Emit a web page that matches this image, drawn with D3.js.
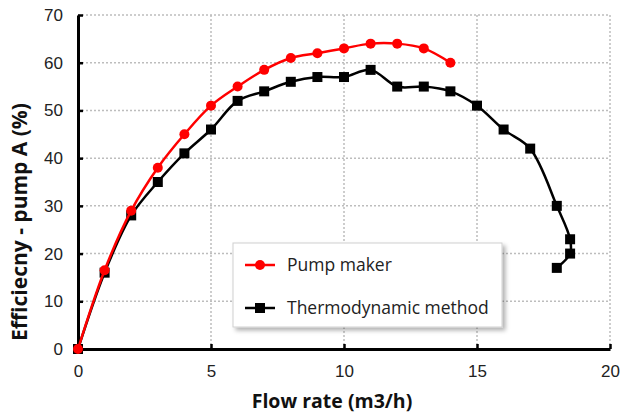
<!DOCTYPE html>
<html>
<head>
<meta charset="utf-8">
<script src="https://cdn.jsdelivr.net/npm/d3@7"></script>
<style>
  body { margin: 0; background: #fff; }
  svg { display: block; font-family: "Open Sans", "Liberation Sans", sans-serif; }
  .grid line { stroke: #bdbdbd; stroke-width: 1.5; stroke-dasharray: 2 2; }
  .tick text { font-size: 17px; fill: #222; }
</style>
</head>
<body>
<div id="chart"></div>
<script>
// valori
const makerFlow = [0, 1, 2, 3, 4, 5, 6, 7, 8, 9, 10, 11, 12, 13, 14];
const makerEff = [0, 16.5, 29, 38, 45, 51, 55, 58.5, 61, 62, 63, 64, 64, 63, 60];
const thermoFlow = [0, 1, 2, 3, 4, 5, 6, 7, 8, 9, 10, 11, 12, 13, 14, 15, 16, 17, 18, 18.5, 18.5, 18];
const thermoEff = [0, 16, 28, 35, 41, 46, 52, 54, 56, 57, 57, 58.5, 55, 55, 54, 51, 46, 42, 30, 23, 20, 17];
const xTicks = [0, 5, 10, 15, 20];
const yTicks = [0, 10, 20, 30, 40, 50, 60, 70];
const legendLabels = ["Pump maker", "Thermodynamic method"];

const W = 622, H = 417;
const margin = { left: 78, right: 12, top: 15, bottom: 68 };

const svg = d3.select("#chart").append("svg")
  .attr("width", W).attr("height", H);

const x = d3.scaleLinear().domain([0, 20]).range([margin.left, W - margin.right]);
const y = d3.scaleLinear().domain([0, 70]).range([H - margin.bottom, margin.top]);

// griglia tratteggiata
const grid = svg.append("g").attr("class", "grid");
grid.selectAll("line.h").data(yTicks.filter(d => d > 0)).enter().append("line")
  .attr("x1", x(0)).attr("x2", x(20))
  .attr("y1", d => y(d)).attr("y2", d => y(d));
grid.selectAll("line.v").data(xTicks.filter(d => d > 0)).enter().append("line")
  .attr("y1", y(0)).attr("y2", y(70))
  .attr("x1", d => x(d)).attr("x2", d => x(d));

// assi
const xAxis = svg.append("g")
  .attr("transform", `translate(0,${y(0)})`)
  .call(d3.axisBottom(x).tickValues(xTicks).tickSizeInner(-5).tickSizeOuter(0).tickPadding(16));
const yAxis = svg.append("g")
  .attr("transform", `translate(${x(0)},0)`)
  .call(d3.axisLeft(y).tickValues(yTicks).tickSizeInner(-5).tickSizeOuter(0).tickPadding(15));
[xAxis, yAxis].forEach(a => {
  a.select(".domain").attr("stroke", "#000").attr("stroke-width", 3);
  a.selectAll(".tick line").attr("stroke", "#000").attr("stroke-width", 2.5);
});

// titoli assi
svg.append("text")
  .attr("x", 332).attr("y", 408)
  .attr("text-anchor", "middle")
  .style("font-size", "19.5px").style("font-weight", "bold").attr("fill", "#111")
  .text("Flow rate (m3/h)");
svg.append("text")
  .attr("transform", "translate(27,222) rotate(-90)")
  .attr("text-anchor", "middle")
  .style("font-size", "21px").style("font-weight", "bold").attr("fill", "#111")
  .text("Efficiecny - pump A (%)");

const line = d3.line()
  .x(d => x(d[0])).y(d => y(d[1]))
  .curve(d3.curveCatmullRom.alpha(0.5));

const makerPts = makerFlow.map((f, i) => [f, makerEff[i]]);
const thermoPts = thermoFlow.map((f, i) => [f, thermoEff[i]]);

svg.append("path").datum(thermoPts)
  .attr("d", line).attr("fill", "none")
  .attr("stroke", "#000").attr("stroke-width", 2.5);
svg.selectAll("rect.thermo").data(thermoPts).enter().append("rect")
  .attr("class", "thermo")
  .attr("x", d => x(d[0]) - 5).attr("y", d => y(d[1]) - 5)
  .attr("width", 10).attr("height", 10).attr("fill", "#000");

svg.append("path").datum(makerPts)
  .attr("d", line).attr("fill", "none")
  .attr("stroke", "#ff0000").attr("stroke-width", 2.5);
svg.selectAll("circle.maker").data(makerPts).enter().append("circle")
  .attr("class", "maker")
  .attr("cx", d => x(d[0])).attr("cy", d => y(d[1]))
  .attr("r", 5).attr("fill", "#ff0000");

// legenda con ombra
const defs = svg.append("defs");
const filt = defs.append("filter").attr("id", "shadow")
  .attr("x", "-10%").attr("y", "-10%").attr("width", "125%").attr("height", "140%");
filt.append("feDropShadow").attr("dx", 3).attr("dy", 3).attr("stdDeviation", 2)
  .attr("flood-color", "#000").attr("flood-opacity", 0.3);

const lg = svg.append("g").attr("transform", "translate(233,243)");
lg.append("rect").attr("width", 269).attr("height", 84)
  .attr("fill", "#fff").attr("stroke", "#d0d0d0").attr("stroke-width", 1)
  .attr("filter", "url(#shadow)");
const items = lg.selectAll("g.item").data(legendLabels).enter().append("g")
  .attr("transform", (d, i) => `translate(12,${22 + i * 43})`);
items.append("line").attr("x1", 0).attr("x2", 30)
  .attr("stroke", (d, i) => i === 0 ? "#ff0000" : "#000").attr("stroke-width", 2.5);
items.filter((d, i) => i === 0).append("circle")
  .attr("cx", 15).attr("r", 5).attr("fill", "#ff0000");
items.filter((d, i) => i === 1).append("rect")
  .attr("x", 10).attr("y", -5).attr("width", 10).attr("height", 10).attr("fill", "#000");
items.append("text").attr("x", 42).attr("dy", "0.35em")
  .style("font-size", "17.5px").attr("fill", "#222")
  .text(d => d);
</script>
</body>
</html>
